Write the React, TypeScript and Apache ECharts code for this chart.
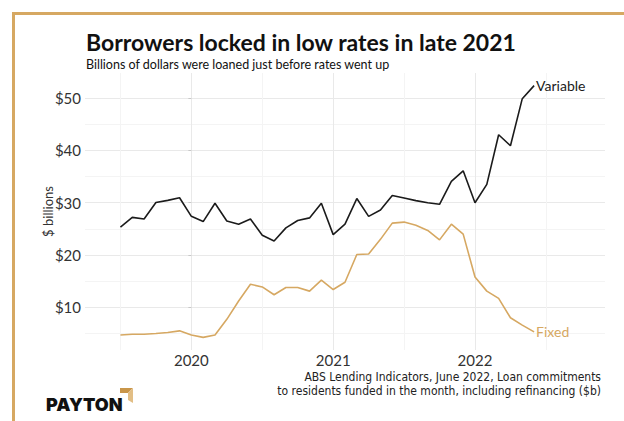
import React, { useEffect, useRef } from "react";
import * as echarts from "echarts";

const months = [
  "2019-07", "2019-08", "2019-09", "2019-10", "2019-11", "2019-12",
  "2020-01", "2020-02", "2020-03", "2020-04", "2020-05", "2020-06",
  "2020-07", "2020-08", "2020-09", "2020-10", "2020-11", "2020-12",
  "2021-01", "2021-02", "2021-03", "2021-04", "2021-05", "2021-06",
  "2021-07", "2021-08", "2021-09", "2021-10", "2021-11", "2021-12",
  "2022-01", "2022-02", "2022-03", "2022-04", "2022-05", "2022-06",
];

const variableLoans = [
  25.35, 27.2, 26.9, 30.05, 30.45, 30.95,
  27.4, 26.4, 29.9, 26.5, 25.9, 26.9,
  23.8, 22.7, 25.2, 26.6, 27.1, 29.9,
  23.9, 25.9, 30.8, 27.4, 28.6, 31.4,
  30.9, 30.4, 30.0, 29.7, 34.1, 36.1,
  30.0, 33.5, 43.0, 40.9, 49.9, 52.4,
];

const fixedLoans = [
  4.7, 4.85, 4.85, 5.0, 5.2, 5.5,
  4.7, 4.25, 4.7, 7.7, 11.2, 14.4,
  13.9, 12.4, 13.8, 13.8, 13.1, 15.2,
  13.4, 14.8, 20.1, 20.2, 23.0, 26.1,
  26.3, 25.7, 24.7, 22.9, 25.9, 24.0,
  15.8, 13.1, 11.7, 8.0, 6.6, 5.3,
];

const yearTicks = ["2020-01", "2021-01", "2022-01"];
const halfYearTicks = ["2019-07", "2020-07", "2021-07", "2022-07"];
const yMajorTicks = [10, 20, 30, 40, 50];
const yMinorTicks = [5, 15, 25, 35, 45];

const titleText = "Borrowers locked in low rates in late 2021";
const subtitleText = "Billions of dollars were loaned just before rates went up";
const sourceLines = [
  "ABS Lending Indicators, June 2022, Loan commitments",
  "to residents funded in the month, including refinancing ($b)",
];
const yAxisName = "$ billions";
const brandName = "PAYTON";

const GOLD = "#D6A862";
const INK = "#1b1b1b";
const TEXT = "#333333";
const MAJOR_GRID = "#e9e9e9";
const MINOR_GRID = "#f4f4f4";

// month offset relative to Jan 2020
const monthPos = (s: string) => {
  const [y, m] = s.split("-").map(Number);
  return (y - 2020) * 12 + (m - 1);
};

export default function App() {
  const ref = useRef<HTMLDivElement>(null);

  useEffect(() => {
    if (!ref.current) return;
    const chart = echarts.init(ref.current, undefined, { renderer: "svg" });

    const varData = months.map((m, i) => [monthPos(m), variableLoans[i]]);
    const fixData = months.map((m, i) => [monthPos(m), fixedLoans[i]]);

    const gridLines: any[] = [
      ...yMinorTicks.map((v) => ({ yAxis: v, lineStyle: { color: MINOR_GRID, width: 1, type: "solid" } })),
      ...yMajorTicks.map((v) => ({ yAxis: v, lineStyle: { color: MAJOR_GRID, width: 1, type: "solid" } })),
      ...halfYearTicks.map((v) => ({ xAxis: monthPos(v), lineStyle: { color: MINOR_GRID, width: 1, type: "solid" } })),
      ...yearTicks.map((v) => ({ xAxis: monthPos(v), lineStyle: { color: MAJOR_GRID, width: 1, type: "solid" } })),
    ];

    const labelFont = "Lato, 'Noto Sans', sans-serif";

    chart.setOption({
      animation: false,
      backgroundColor: "#ffffff",
      grid: { left: 85, right: 19, top: 73, bottom: 71, containLabel: false },
      xAxis: {
        type: "value",
        min: -9,
        max: 35,
        axisLine: { show: false },
        axisTick: { show: false, customValues: yearTicks.map(monthPos) },
        splitLine: { show: false },
        axisLabel: {
          customValues: yearTicks.map(monthPos),
          formatter: (v: number) => String(2020 + Math.round(v / 12)),
          color: TEXT,
          fontSize: 15,
          fontFamily: labelFont,
          margin: 2,
        },
      },
      yAxis: {
        type: "value",
        min: 1.84,
        max: 54.81,
        name: yAxisName,
        nameLocation: "middle",
        nameGap: 31,
        nameRotate: 90,
        nameMoveOverlap: false,
        nameTextStyle: { color: TEXT, fontSize: 13, fontFamily: labelFont },
        axisLine: { show: false },
        axisTick: {
          show: true,
          length: 3,
          customValues: yMajorTicks,
          lineStyle: { color: "#c8c8c8" },
        },
        splitLine: { show: false },
        axisLabel: {
          customValues: yMajorTicks,
          formatter: (v: number) => "$" + v,
          color: TEXT,
          fontSize: 15,
          fontFamily: labelFont,
          margin: 4,
        },
      },
      series: [
        {
          type: "line",
          name: "grid",
          data: [],
          z: 0,
          silent: true,
          markLine: {
            z: 0,
            silent: true,
            symbol: ["none", "none"],
            label: { show: false },
            animation: false,
            data: gridLines,
          },
        },
        {
          type: "line",
          name: "Fixed",
          data: fixData,
          showSymbol: false,
          symbol: "none",
          z: 3,
          lineStyle: { color: GOLD, width: 1.6 },
          itemStyle: { color: GOLD },
          endLabel: {
            show: true,
            formatter: "Fixed",
            color: GOLD,
            fontSize: 14,
            fontFamily: labelFont,
            distance: 2,
          },
        },
        {
          type: "line",
          name: "Variable",
          data: varData,
          showSymbol: false,
          symbol: "none",
          z: 4,
          lineStyle: { color: INK, width: 1.6 },
          itemStyle: { color: INK },
          endLabel: {
            show: true,
            formatter: "Variable",
            color: INK,
            fontSize: 14,
            fontFamily: labelFont,
            distance: 2,
          },
        },
      ],
      graphic: [
        {
          type: "rect",
          shape: { x: 13.5, y: 13.5, width: 700, height: 600 },
          style: { fill: "none", stroke: GOLD, lineWidth: 3 },
          silent: true,
        },
        {
          type: "text",
          x: 86,
          y: 42,
          style: {
            text: titleText,
            fill: "#111111",
            fontSize: 23,
            lineHeight: 21,
            fontWeight: "bold",
            fontFamily: "Lato, sans-serif",
            textVerticalAlign: "middle",
            verticalAlign: "middle",
          },
        },
        {
          type: "text",
          x: 86,
          y: 64,
          style: {
            text: subtitleText,
            fill: "#111111",
            fontSize: 12.5,
            lineHeight: 13,
            fontFamily: "Lato, sans-serif",
            textVerticalAlign: "middle",
            verticalAlign: "middle",
          },
        },
        ...sourceLines.map((t, i) => ({
          type: "text",
          x: 601,
          y: 377 + i * 14,
          style: {
            text: t,
            fill: "#222222",
            fontSize: 12,
            lineHeight: 13,
            fontFamily: "'Liberation Sans Narrow', 'DejaVu Sans Condensed', Lato, sans-serif",
            textAlign: "right",
            align: "right",
            textVerticalAlign: "middle",
            verticalAlign: "middle",
          },
        })),
        {
          type: "text",
          x: 46,
          y: 404,
          style: {
            text: brandName,
            fill: "#111111",
            fontSize: 18,
            fontWeight: 900,
            fontFamily: "Inter, 'Open Sans', sans-serif",
            textVerticalAlign: "middle",
            verticalAlign: "middle",
          },
        },
        {
          type: "polygon",
          shape: { points: [[120, 388], [133, 388], [128, 393], [120, 393]] },
          style: { fill: "#C9964A" },
        },
        {
          type: "polygon",
          shape: { points: [[133, 388], [133, 403], [128, 400], [128, 393]] },
          style: { fill: "#E2BE85" },
        },
      ],
    });

    return () => chart.dispose();
  }, []);

  return (
    <div
      ref={ref}
      style={{ position: "fixed", left: 0, top: 0, width: 624, height: 421 }}
    />
  );
}
